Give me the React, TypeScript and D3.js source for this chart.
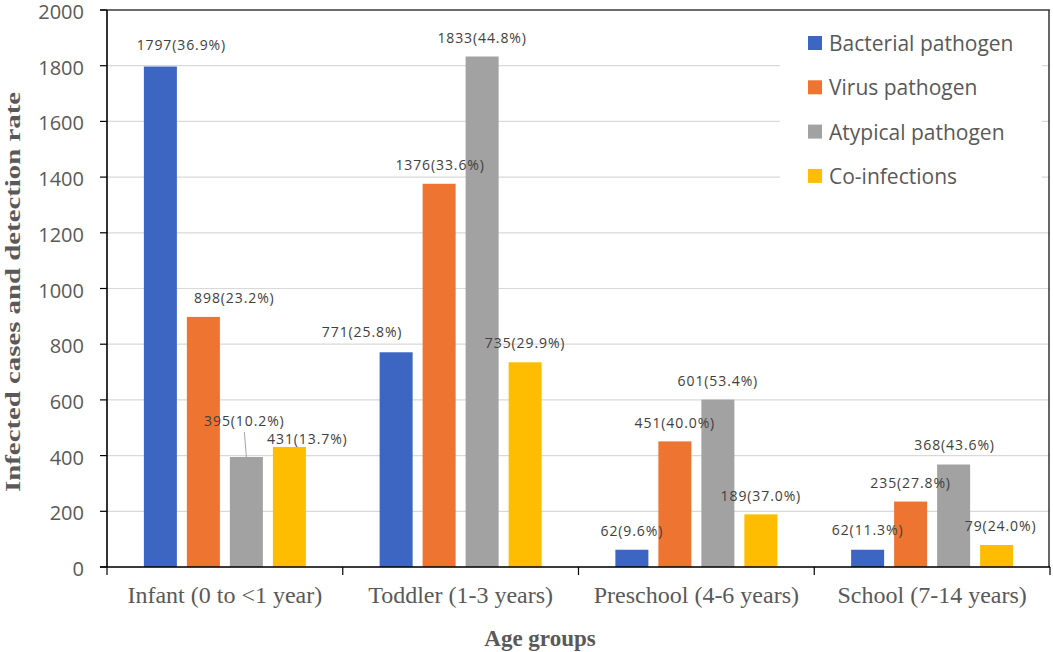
import React from 'react'
import * as d3 from 'd3'

const categories = ['Infant (0 to <1 year)', 'Toddler (1-3 years)', 'Preschool (4-6 years)', 'School (7-14 years)']
const seriesNames = ['Bacterial pathogen', 'Virus pathogen', 'Atypical pathogen', 'Co-infections']
const bacterial = [1797, 771, 62, 62]
const virus = [898, 1376, 451, 235]
const atypical = [395, 1833, 601, 368]
const coInfections = [431, 735, 189, 79]
const bacterialRate = ['36.9%', '25.8%', '9.6%', '11.3%']
const virusRate = ['23.2%', '33.6%', '40.0%', '27.8%']
const atypicalRate = ['10.2%', '44.8%', '53.4%', '43.6%']
const coInfectionsRate = ['13.7%', '29.9%', '37.0%', '24.0%']
const yTicks = [0, 200, 400, 600, 800, 1000, 1200, 1400, 1600, 1800, 2000]

const colors = ['#3c66c1', '#ed7431', '#a2a2a2', '#ffbd00']

// manual label placement (dx, dy) like the excel original
const labelNudge = [
    [[21, -3], [-34, -2], [0, 0], [0, -1]],
    [[31, 0], [1, 0], [0, 0], [0, 0]],
    [[-2, -17], [0, 0], [0, 0], [1, -1]],
    [[18, 11], [0, -1], [0, 0], [4, 0]],
]

const W = 1053
const H = 652
const left = 107
const right = 1050
const top = 10
const bottom = 567

export default function App() {
    const values = [bacterial, virus, atypical, coInfections]
    const rates = [bacterialRate, virusRate, atypicalRate, coInfectionsRate]

    const x = d3.scaleBand().domain(categories).range([left, right])
    const inner = d3.scaleBand().domain(seriesNames).range([-81, 81]).paddingInner(10 / 43)
    const y = d3.scaleLinear().domain([0, 2000]).range([bottom, top])

    const sans = '"Open Sans", "Noto Sans", sans-serif'
    const serif = '"Liberation Serif", "Times New Roman", serif'

    return (
        <div style={{ position: 'absolute', left: 0, top: 0 }}>
            <svg width={W} height={H} style={{ display: 'block', background: '#fff' }}>
                {/* gridlines */}
                {yTicks.map(t => (
                    <line key={'g' + t} x1={left} x2={right} y1={y(t)} y2={y(t)} stroke="#d9d9d9" strokeWidth={1.2}/>
                ))}
                {/* legend background */}
                <rect x={780} y={16} width={262} height={188} fill="#fff"/>
                {/* frame top / right */}
                <line x1={100} x2={right} y1={y(2000)} y2={y(2000)} stroke="#404040" strokeWidth={1.6}/>
                <line x1={right - 1} x2={right - 1} y1={top} y2={bottom} stroke="#404040" strokeWidth={1.6}/>

                {/* bars */}
                {values.map((vals, s) => vals.map((v, c) => (
                    <rect key={'b' + s + c}
                        x={x(categories[c])! + x.bandwidth() / 2 + inner(seriesNames[s])!}
                        y={y(v)}
                        width={inner.bandwidth()}
                        height={y(0) - y(v)}
                        fill={colors[s]}/>
                )))}

                {/* data labels */}
                {values.map((vals, s) => vals.map((v, c) => {
                    const cx = x(categories[c])! + x.bandwidth() / 2 + inner(seriesNames[s])! + inner.bandwidth() / 2
                    const [dx, dy] = labelNudge[s][c]
                    const lx = cx + dx
                    const ly = y(v) - 19 + dy
                    return (
                        <g key={'l' + s + c}>
                            {dy < -10 && (
                                <line x1={lx} y1={ly + 11} x2={cx} y2={y(v)} stroke="#a6a6a6" strokeWidth={1}/>
                            )}
                            <text x={lx} y={ly} textAnchor="middle" dominantBaseline="central"
                                fontFamily={sans} fontSize={14} letterSpacing={0.9} fill="#404040">
                                {v}({rates[s][c]})
                            </text>
                        </g>
                    )
                }))}

                {/* y axis */}
                <line x1={left} x2={left} y1={top} y2={bottom} stroke="#000" strokeWidth={1.6}/>
                {yTicks.map(t => (
                    <g key={'t' + t}>
                        <line x1={100} x2={left} y1={y(t)} y2={y(t)} stroke="#000" strokeWidth={1.2}/>
                        <text x={84} y={y(t) + 1.5} textAnchor="end" dominantBaseline="central"
                            fontFamily={sans} fontSize={20} fill="#595959">{t}</text>
                    </g>
                ))}

                {/* x axis */}
                <line x1={100} x2={right} y1={bottom} y2={bottom} stroke="#000" strokeWidth={1.6}/>
                {[...categories.map(c => x(c)!), right].map((px, i) => (
                    <line key={'xt' + i} x1={px} x2={px} y1={bottom} y2={bottom + 8} stroke="#000" strokeWidth={1.2}/>
                ))}
                {categories.map(c => (
                    <text key={c} x={x(c)! + x.bandwidth() / 2} y={603} textAnchor="middle"
                        fontFamily={serif} fontSize={24} fill="#595959">{c}</text>
                ))}

                {/* axis titles */}
                <text x={540} y={646} textAnchor="middle" fontFamily={serif} fontSize={23} fontWeight="bold" fill="#595959">Age groups</text>
                <text transform={`translate(20, 292) rotate(-90)`} textAnchor="middle"
                    textLength={400} lengthAdjust="spacingAndGlyphs"
                    fontFamily={serif} fontSize={22} fontWeight="bold" fill="#595959">Infected cases and detection rate</text>

                {/* legend */}
                {seriesNames.map((n, i) => (
                    <g key={n} transform={`translate(808, ${43 + i * 44.3})`}>
                        <rect x={0} y={-7} width={14} height={14} fill={colors[i]}/>
                        <text x={21} y={0} dominantBaseline="central" fontFamily={sans} fontSize={21} fill="#595959">{n}</text>
                    </g>
                ))}
            </svg>
        </div>
    )
}
